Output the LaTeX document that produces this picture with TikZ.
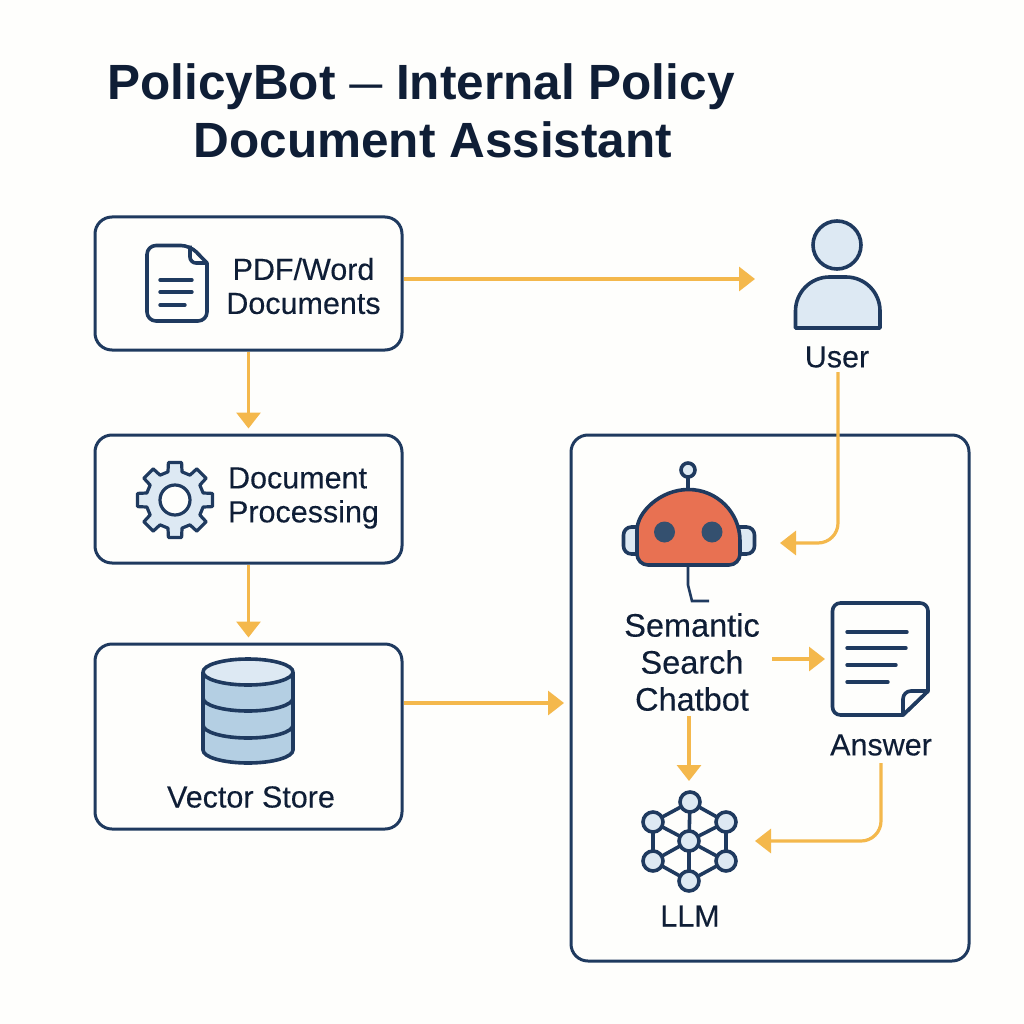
\documentclass[tikz,border=0pt]{standalone}
\usepackage{fontspec}
\setmainfont{Liberation Sans}
\newfontfamily\lblfont[FakeBold=0.25]{Liberation Sans}
\usetikzlibrary{arrows.meta,calc}
\definecolor{navy}{HTML}{1F3A5F}
\definecolor{eye}{HTML}{34506F}
\definecolor{ink}{HTML}{0F1E36}
\definecolor{amber}{HTML}{F4B84C}
\definecolor{pale}{HTML}{DDE9F3}
\definecolor{steel}{HTML}{B4CFE3}
\definecolor{coral}{HTML}{E87152}
\definecolor{paper}{HTML}{FEFEFC}
\tikzset{
  panel/.style={draw=navy,line width=3pt,rounded corners=17pt,fill=paper,inner sep=0pt},
  flow/.style={draw=amber,line width=3.2pt,-{Triangle[width=24pt,length=16pt]},rounded corners=20pt},
  icon/.style={draw=navy,line width=3.6pt,line join=round},
  rule/.style={draw=navy,line width=3.4pt,line cap=round},
  lbl/.style={text=ink,inner sep=0pt,align=center,font=\lblfont\fontsize{30.5}{34}\selectfont},
  ttl/.style={text=ink,inner sep=0pt,anchor=base,font=\fontsize{49.5}{50}\selectfont\bfseries},
}
\begin{document}
\begin{tikzpicture}[x=1pt,y=-1pt]
\useasboundingbox[fill=paper] (0,0) rectangle (1024,1024);
\node[ttl] (t1) at (421,100) {PolicyBot \raisebox{4pt}{\fontsize{33}{33}\selectfont —} Internal Policy};
\node[ttl] (t2) at (433,158) {Document Assistant};
% boxes
\node[panel,minimum width=307pt,minimum height=133pt] (docs) at (248.5,283.5) {};
\node[panel,minimum width=307pt,minimum height=128pt] (proc) at (248.5,499) {};
\node[panel,minimum width=307pt,minimum height=185pt] (vec) at (248.5,736.5) {};
\node[panel,minimum width=398pt,minimum height=526pt] (chat) at (770,698) {};
% labels
\node[lbl] (docslbl) at (303.5,286) {PDF/Word\\Documents};
\node[lbl,align=left] (proclbl) at (303.5,498) {Document\\Processing};
\node[lbl] (veclbl) at (251,797) {Vector Store};
\node[lbl] (userlbl) at (837,357) {User};
\node[lbl,font=\lblfont\fontsize{32.5}{37}\selectfont] (semlbl) at (692,662) {Semantic\\Search\\Chatbot};
\node[lbl] (anslbl) at (881,745) {Answer};
\node[lbl] (llmlbl) at (690,916) {LLM};
% anchors of the arrows
\coordinate (userin) at (755,279);
\coordinate (chatin) at (564,703);
\coordinate (robotin) at (780,543);
\coordinate (ansin) at (825,659);
\coordinate (llmtop) at (689,781);
\coordinate (llmin) at (755,841);
\coordinate (userout) at (838,372);
\coordinate (semout) at (772,659);
\coordinate (semdown) at (689,716);
\coordinate (ansout) at (881,763);
% connectors
\draw[flow] (docs.east |- userin) -- (userin);
\draw[flow,shorten >=5pt] (docs) -- (proc);
\draw[flow,shorten >=5pt] (proc) -- (vec);
\draw[flow] (vec.east |- chatin) -- (chatin);
\draw[flow] (userout) |- (robotin);
\draw[flow] (semout) -- (ansin);
\draw[flow] (semdown) -- (llmtop);
\draw[flow] (ansout) |- (llmin);
% document icon
\draw[icon] (207,290) [rounded corners=9pt] -- (207,321) -- (147,321) -- (147,245.5) -- (190,245.5) [sharp corners] -- (207,263) -- cycle;
\draw[icon] (190,245.5) [rounded corners=6pt] -- (190,263) -- (207,263);
\draw[rule] (160,280) -- (192,280) (160,292) -- (192,292) (160,305) -- (185,305);
% gear
\coordinate (gc) at (175,500);
\draw[icon,line width=3.2pt,fill=pale] ($(gc)+(-14:29)$) \foreach \a in {0,45,...,315} {
  -- ($(gc)+({\a-10}:38)$) -- ($(gc)+({\a+10}:38)$) -- ($(gc)+({\a+14}:29)$) -- ($(gc)+({\a+31}:29)$)
} -- cycle;
\draw[icon,line width=3.2pt,fill=paper] (gc) circle[radius=15];
% database
\draw[icon,fill=steel] (203,672) -- (203,750) arc[start angle=180,end angle=0,x radius=45,y radius=13] -- (293,672);
\draw[icon,fill=pale] (248,672) ellipse[x radius=45,y radius=13];
\draw[icon] (203,698) arc[start angle=180,end angle=0,x radius=45,y radius=13];
\draw[icon] (203,725) arc[start angle=180,end angle=0,x radius=45,y radius=13];
% user
\draw[icon,fill=pale] (837,245) circle[radius=24];
\draw[icon,fill=pale] (795.5,328) [rounded corners=34pt] -- (795.5,277) -- (880,277) [sharp corners] -- (880,328) -- cycle;
% robot
\draw[icon,fill=pale] [rounded corners=8pt] (640,527) -- (623.5,527) -- (623.5,554) -- (640,554);
\draw[icon,fill=pale] [rounded corners=8pt] (737,527) -- (754.5,527) -- (754.5,554) -- (737,554);
\draw[icon] (688,490) -- (688,477);
\draw[icon,fill=pale] (688,470) circle[radius=7];
\draw[icon,fill=coral] (637,541) arc[start angle=180,end angle=360,radius=51.5] [rounded corners=11pt] -- (740,565) -- (637,565) -- cycle;
\fill[eye] (664.5,532) circle[radius=10.5] (712,532) circle[radius=10.5];
\draw[navy,line width=2.6pt] (688,565) -- (688,585) -- (692,601) -- (709,601);
% answer icon
\draw[icon] (903,715) [rounded corners=8pt] -- (832.5,715) -- (832.5,603) -- (928,603) [sharp corners] -- (928,691) -- cycle;
\draw[icon,fill=paper] (928,691) [rounded corners=8pt] -- (903,691) [sharp corners] -- (903,715) -- cycle;
\draw[rule] (847,632) -- (907,632) (847,648) -- (906,648) (847,665) -- (896,665) (847,682) -- (888,682);
% LLM network
\coordinate (hub) at (689,841);
\coordinate (n1) at (690,802);
\coordinate (n2) at (726,822);
\coordinate (n3) at (726,861);
\coordinate (n4) at (689,881);
\coordinate (n5) at (653,861);
\coordinate (n6) at (653,822);
\draw[icon] (n1) -- (n2) -- (n3) -- (n4) -- (n5) -- (n6) -- cycle (hub) -- (n1) (hub) -- (n2) (hub) -- (n3) (hub) -- (n4) (hub) -- (n5) (hub) -- (n6);
\foreach \p in {hub,n1,n2,n3,n4,n5,n6} \draw[icon,fill=pale] (\p) circle[radius=10];
\end{tikzpicture}
\end{document}
